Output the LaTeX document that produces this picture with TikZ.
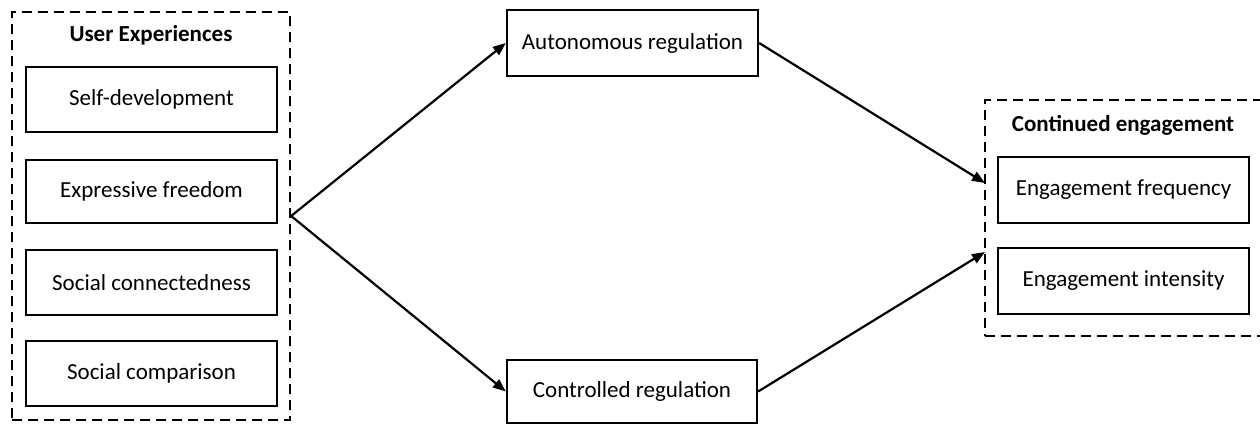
\documentclass[tikz,border=0pt]{standalone}
\usepackage{fontspec}
\setmainfont{Carlito}
\usetikzlibrary{arrows.meta}
\begin{document}
\begin{tikzpicture}[x=1pt,y=-1pt,
  every node/.style={font=\fontsize{23}{28}\selectfont, inner sep=0pt},
  itembox/.style={draw=black, line width=2.3pt, minimum width=251pt, minimum height=65pt, align=center},
  groupbox/.style={draw=black, line width=2.3pt, dash pattern=on 10pt off 6pt},
  titletext/.style={font=\fontsize{23}{28}\selectfont\bfseries},
  conn/.style={line width=2.2pt, -{Triangle[length=13pt,width=10pt]}}
]
\useasboundingbox (0,0) rectangle (1260,426);
\clip (0,0) rectangle (1260,426);
% left group
\node[groupbox, minimum width=278pt, minimum height=408pt] (ue) at (151,216) {};
\node[titletext] (uet) at (151,35) {User Experiences};
\node[itembox] (sd) at (151.5,99.5) {Self-development};
\node[itembox, minimum height=63pt] (ef) at (151.5,191.5) {Expressive freedom};
\node[itembox] (sc) at (151.5,282.5) {Social connectedness};
\node[itembox] (sp) at (151.5,373.5) {Social comparison};
% middle
\node[itembox, minimum height=66pt] (ar) at (632.5,43) {Autonomous regulation};
\node[itembox, minimum width=250pt, minimum height=63pt] (cr) at (632,391.5) {Controlled regulation};
% right group
\node[groupbox, minimum width=285pt, minimum height=236pt] (ce) at (1127.5,218) {};
\node[titletext] (cet) at (1123,125) {Continued engagement};
\node[itembox, minimum height=66pt] (fq) at (1123.5,190) {Engagement frequency};
\node[itembox, minimum height=66pt] (in) at (1123.5,281) {Engagement intensity};
% arrow targets on the right group's edge
\coordinate (ceA) at (985,183);
\coordinate (ceB) at (985,252);
% connectors
\draw[conn] (ue.east) -- (ar.west);
\draw[conn] (ue.east) -- (cr.west);
\draw[conn] (ar.east) -- (ceA);
\draw[conn] (cr.east) -- (ceB);
\end{tikzpicture}
\end{document}
